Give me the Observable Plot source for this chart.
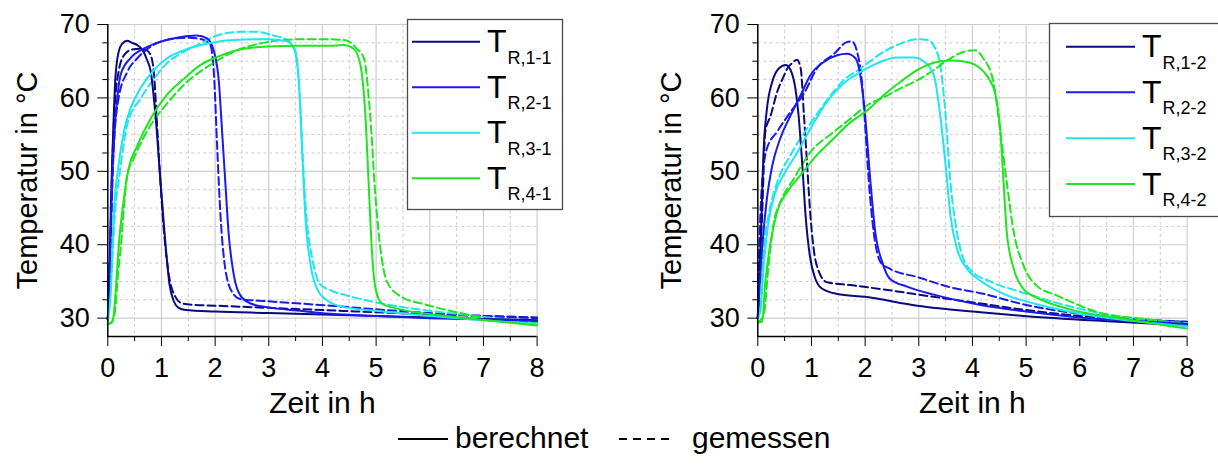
<!DOCTYPE html>
<html><head><meta charset="utf-8">
<script src="https://cdn.jsdelivr.net/npm/d3@7"></script>
<script src="https://cdn.jsdelivr.net/npm/@observablehq/plot@0.6"></script>
<style>
body{margin:0;background:#fff;font-family:"Liberation Sans",Arial,sans-serif;}
#root{position:relative;width:1218px;height:466px;overflow:hidden;background:#fff;}
#root > svg{position:absolute;top:0;}
</style></head><body><div id="root"></div>
<script>
// ---------- data ----------
const timeMajor = [0,1,2,3,4,5,6,7,8];
const timeMinor = [0.5,1.5,2.5,3.5,4.5,5.5,6.5,7.5];
const tempMajor = [30,40,50,60,70];
const tempMinor = [32.5,35,37.5,42.5,45,47.5,52.5,55,57.5,62.5,65,67.5];
const labels1 = ["R,1-1","R,2-1","R,3-1","R,4-1"];
const labels2 = ["R,1-2","R,2-2","R,3-2","R,4-2"];
const legendKinds = ["berechnet","gemessen"];

// left panel – berechnet (calc) / gemessen (meas), [Zeit h, Temperatur °C]
const calc_1_1 = [[0,29.8],[0.03,36],[0.06,46],[0.08,51],[0.11,57.4],[0.14,62.5],[0.2,66.2],[0.27,67.4],[0.36,67.8],[0.45,67.5],[0.55,67.2],[0.65,66.5],[0.73,65.2],[0.8,63.6],[0.89,57.5],[0.98,48.8],[1.06,41.4],[1.15,34.6],[1.23,32.3],[1.32,31.4],[1.45,31.1],[2.0,30.9],[3.0,30.7],[4.0,30.5],[5.0,30.3],[6.0,30.1],[7.0,29.9],[8.0,29.7]];
const meas_1_1 = [[0,29.8],[0.04,38],[0.08,50],[0.14,60],[0.2,63.5],[0.3,65.8],[0.45,66.6],[0.6,66.7],[0.72,66.5],[0.8,65.8],[0.86,63.3],[0.92,56],[0.98,48.6],[1.05,41.5],[1.14,35.8],[1.26,32.9],[1.39,32.0],[1.6,31.8],[2.0,31.7],[3.0,31.4],[4.0,31.1],[5.0,30.8],[6.0,30.5],[7.0,30.3],[8.0,30.1]];
const calc_2_1 = [[0,29.8],[0.04,38],[0.08,48.5],[0.13,56],[0.17,59.5],[0.24,63.2],[0.42,65.4],[0.67,66.7],[1.0,67.7],[1.29,68.2],[1.66,68.5],[1.85,68.1],[1.98,66.3],[2.07,62.2],[2.13,55.4],[2.19,48.5],[2.25,41.7],[2.35,35.8],[2.47,33.1],[2.66,32.0],[2.97,31.5],[3.59,31.0],[4.15,30.6],[5,30.3],[6,30.0],[7,29.8],[8,29.6]];
const meas_2_1 = [[0,29.8],[0.05,40],[0.11,53],[0.2,59.9],[0.36,63.5],[0.55,65.4],[0.8,67],[1.1,67.9],[1.48,68.2],[1.75,68.0],[1.91,67.2],[1.98,63],[2.04,53],[2.1,44],[2.19,36.7],[2.32,33.5],[2.47,32.6],[2.97,32.3],[4.15,31.7],[5,31.2],[6,30.7],[7,30.3],[8,30.0]];
const calc_3_1 = [[0,29.8],[0.05,33],[0.11,44],[0.2,50.8],[0.3,55.4],[0.42,58.5],[0.61,61.3],[0.86,63.8],[1.1,65.4],[1.42,66.5],[1.73,67.2],[2.35,67.9],[2.97,68.0],[3.34,67.7],[3.47,66.7],[3.56,62.2],[3.62,53],[3.68,44],[3.78,37.2],[3.9,34],[4.09,32.4],[4.4,31.5],[5,31.0],[6,30.3],[7,29.7],[8,29.2]];
const meas_3_1 = [[0,29.8],[0.06,35],[0.14,45],[0.2,48.5],[0.36,56.3],[0.61,59.9],[0.86,62.6],[1.1,64.7],[1.42,66.3],[1.73,67.4],[2.04,68.5],[2.47,69.0],[2.78,69.0],[3.09,68.5],[3.34,67.9],[3.5,66.3],[3.58,59.9],[3.64,50.8],[3.7,44],[3.81,38.1],[3.96,34.6],[4.15,33.8],[4.5,33.0],[4.9,32.3],[5.5,31.5],[6.0,31.0],[6.6,30.5],[7.2,30.0],[8,29.4]];
const calc_4_1 = [[0,29.2],[0.06,29.3],[0.11,30.4],[0.15,34],[0.2,39.5],[0.3,46.3],[0.39,50.4],[0.55,53.5],[0.8,57.2],[1.1,60.4],[1.42,62.6],[1.73,64.5],[2.04,65.6],[2.35,66.4],[2.97,67.0],[3.59,67.1],[4.15,67.1],[4.39,67.2],[4.58,66.7],[4.71,64.4],[4.8,57.6],[4.86,48.5],[4.92,39.4],[4.99,34],[5.11,32],[5.39,31.3],[6.44,30.2],[7.2,29.6],[8,29.0]];
const meas_4_1 = [[0,29.2],[0.08,29.5],[0.14,31.3],[0.19,36],[0.24,39.5],[0.3,45],[0.36,49.5],[0.48,51.7],[0.8,56.3],[1.1,59.2],[1.48,62.2],[1.91,64.5],[2.35,66.3],[2.97,67.6],[3.59,68.0],[4.15,68.0],[4.46,67.8],[4.64,66.7],[4.77,65.5],[4.89,57.6],[4.99,46.3],[5.08,39.5],[5.2,35],[5.45,33.0],[5.95,31.8],[6.57,30.7],[7.07,30.0],[8,29.3]];

// right panel
const calc_1_2 = [[0,30],[0.05,39.5],[0.11,53.1],[0.17,58.5],[0.27,62.2],[0.39,64],[0.52,64.5],[0.61,63.8],[0.7,61.3],[0.76,57.6],[0.83,50.8],[0.89,44],[0.97,38.5],[1.07,35.4],[1.2,34],[1.48,33.3],[2.0,32.9],[2.97,31.7],[4.15,30.8],[4.95,30.3],[6.44,29.6],[8,29.0]];
const meas_1_2 = [[0,30],[0.04,38],[0.08,44],[0.14,55.4],[0.24,57.6],[0.36,60.8],[0.48,62.9],[0.55,64],[0.65,64.8],[0.73,65.2],[0.8,64],[0.86,57.6],[0.92,50.8],[0.98,44],[1.04,39.5],[1.14,36.3],[1.29,34.9],[1.73,34.5],[2.35,33.9],[3.28,32.9],[4.15,32.0],[5,31.1],[6,30.3],[7,29.8],[8,29.5]];
const calc_2_2 = [[0,30],[0.03,34],[0.08,39.5],[0.17,46.3],[0.27,50.8],[0.42,54.5],[0.61,57.6],[0.8,60.4],[0.98,63.1],[1.23,64.9],[1.48,65.8],[1.66,66.0],[1.82,65.4],[1.91,63.1],[2.0,57.6],[2.1,48.5],[2.19,41.7],[2.32,37.6],[2.47,35.3],[2.78,34.3],[3.28,33.2],[4.15,31.8],[5,30.9],[6,30.1],[7,29.6],[8,29.2]];
const meas_2_2 = [[0,30],[0.03,40],[0.08,48.5],[0.17,53.1],[0.36,55.4],[0.61,58.1],[0.86,60.6],[1.1,64],[1.42,66],[1.66,67.6],[1.75,67.7],[1.85,66.3],[1.94,62.2],[2.0,56.3],[2.07,48.5],[2.16,41.7],[2.29,37.6],[2.47,36.7],[2.97,35.6],[3.59,34.2],[4.15,33.4],[5,31.8],[6,30.6],[7,29.9],[8,29.5]];
const calc_3_2 = [[0,30],[0.05,31],[0.11,37.2],[0.2,43.1],[0.33,47.2],[0.48,49.5],[0.73,52.5],[0.98,55.8],[1.29,59.5],[1.6,62.0],[1.91,63.5],[2.22,64.7],[2.6,65.5],[2.91,65.5],[3.09,65.0],[3.28,63.1],[3.4,57.6],[3.5,50.8],[3.59,44],[3.71,39.5],[3.9,36.7],[4.15,35.1],[4.58,33.3],[5.2,31.9],[5.95,30.7],[7,29.6],[8,28.9]];
const meas_3_2 = [[0,30],[0.05,32],[0.11,39.5],[0.2,44],[0.36,48.5],[0.61,52.2],[0.98,56.5],[1.29,59.7],[1.6,62.4],[1.91,64],[2.35,66.3],[2.66,67.4],[2.97,68.0],[3.16,67.9],[3.31,66.7],[3.4,64.5],[3.5,57.6],[3.59,48.5],[3.68,43.1],[3.81,38.5],[3.96,36.6],[4.33,35],[4.89,33.6],[5.51,32.2],[6.44,30.6],[7.2,29.8],[8,29.3]];
const calc_4_2 = [[0,29.4],[0.08,29.5],[0.14,34.9],[0.24,40.4],[0.36,44.5],[0.55,47.2],[0.8,49.5],[1.1,52.2],[1.42,54.5],[1.73,56.7],[2.04,58.3],[2.35,60.4],[2.66,62.2],[2.97,63.8],[3.28,64.8],[3.59,65.1],[3.9,64.9],[4.15,64],[4.27,63],[4.43,60.4],[4.52,55.4],[4.58,48.5],[4.64,41.7],[4.77,36.7],[4.95,34],[5.2,32.8],[5.82,31.2],[6.75,30.0],[8,28.6]];
const meas_4_2 = [[0,29.4],[0.11,30.4],[0.2,37.2],[0.3,43.1],[0.42,45.8],[0.67,49],[0.98,52.6],[1.42,55.4],[1.73,57.2],[2.04,59],[2.35,60.1],[2.66,61.3],[2.97,62.4],[3.28,63.8],[3.59,65.4],[3.9,66.4],[4.05,66.5],[4.2,65.4],[4.39,62.2],[4.52,55.4],[4.64,48.5],[4.77,41.7],[4.95,37.2],[5.2,34.4],[5.57,33.1],[6.44,30.6],[7.2,29.9],[8,29.2]];

// ---------- styling ----------
const colors = ["#0a0a80","#1a1aef","#1ee6f0","#1ee61e"];
const FONT = "'Liberation Sans', Arial, sans-serif";
const GRID = "#cdcdcd";

function rowsOf(list, kind){
  const out = [];
  list.forEach((arr, i) => arr.forEach(([t, T]) => out.push({t, T, id: kind + i, color: colors[i]})));
  return out;
}

function panel({calc, meas, marginLeft, marginRight, labelDx}){
  const cRows = rowsOf(calc, "c"), mRows = rowsOf(meas, "m");
  return Plot.plot({
    width: 609, height: 466,
    marginLeft, marginRight, marginTop: 24, marginBottom: 130,
    style: {fontFamily: FONT, fontSize: "27px", color: "#000", background: "transparent", overflow: "visible"},
    x: {domain: [0, 8]},
    y: {domain: [27.5, 70]},
    color: {type: "identity"},
    marks: [
      Plot.ruleX(timeMinor, {stroke: GRID, strokeDasharray: "3,3"}),
      Plot.ruleX(timeMajor.slice(1), {stroke: GRID, strokeWidth: 1.2}),
      Plot.ruleY(tempMinor, {stroke: GRID, strokeDasharray: "3,3"}),
      Plot.ruleY(tempMajor, {stroke: GRID, strokeWidth: 1.2}),
      Plot.line(mRows, {x: "t", y: "T", z: "id", stroke: "color", strokeWidth: 2, strokeDasharray: "8,4", curve: "monotone-x"}),
      Plot.line(cRows, {x: "t", y: "T", z: "id", stroke: "color", strokeWidth: 2, curve: "monotone-x"}),
      Plot.ruleX([0], {stroke: "#000", strokeWidth: 1.5}),
      Plot.ruleY([27.5], {stroke: "#000", strokeWidth: 1.5}),
      Plot.axisX({ticks: timeMajor, tickSize: 10, tickPadding: 11, tickFormat: d => String(d), label: null, fontSize: 27}),
      Plot.axisX({ticks: timeMinor, tickSize: 5, tickFormat: () => "", label: null}),
      Plot.axisY({ticks: tempMajor, tickSize: 10, tickPadding: 8, tickFormat: d => String(d), label: null, fontSize: 27}),
      Plot.axisY({ticks: tempMinor, tickSize: 5, tickFormat: () => "", label: null}),
      Plot.text(["Zeit in h"], {text: d => d, frameAnchor: "bottom", textAnchor: "middle", dy: 67, fontSize: 30, lineAnchor: "middle"}),
      Plot.text(["Temperatur in °C"], {text: d => d, frameAnchor: "left", textAnchor: "middle", dx: labelDx, rotate: -90, fontSize: 29, lineAnchor: "middle"})
    ]
  });
}

const root = document.getElementById("root");
const left = panel({calc: [calc_1_1, calc_2_1, calc_3_1, calc_4_1], meas: [meas_1_1, meas_2_1, meas_3_1, meas_4_1], marginLeft: 107.3, marginRight: 72.4, labelDx: -80});
left.style.left = "0px";
root.appendChild(left);
const right = panel({calc: [calc_1_2, calc_2_2, calc_3_2, calc_4_2], meas: [meas_1_2, meas_2_2, meas_3_2, meas_4_2], marginLeft: 148.3, marginRight: 31.4, labelDx: -86});
right.style.left = "609px";
root.appendChild(right);

// ---------- legends overlay ----------
const ov = d3.select(root).append("svg").attr("width", 1218).attr("height", 466)
  .style("position", "absolute").style("left", "0px").style("top", "0px")
  .style("font-family", FONT);

function seriesLegend(x0, y0, w, h, lineX1, lineX2, rowsY, labels){
  ov.append("rect").attr("x", x0).attr("y", y0).attr("width", w).attr("height", h)
    .attr("fill", "#fff").attr("stroke", "#4a4a4a").attr("stroke-width", 1.3);
  labels.forEach((lab, i) => {
    const y = rowsY[i];
    ov.append("line").attr("x1", lineX1).attr("x2", lineX2).attr("y1", y).attr("y2", y)
      .attr("stroke", colors[i]).attr("stroke-width", 2);
    const t = ov.append("text").attr("x", lineX2 + 7).attr("y", y + 10.5).attr("font-size", 32).attr("fill", "#000");
    t.append("tspan").text("T");
    t.append("tspan").attr("font-size", 18).attr("dx", 1).attr("dy", 11.5).text(lab);
  });
}
seriesLegend(407.5, 19.5, 155, 190, 412, 480, [41.7, 87.3, 132.7, 178.3], labels1);
seriesLegend(1049.5, 23.5, 175, 193, 1066, 1135, [46.7, 92.3, 138.3, 184], labels2);

// bottom legend
ov.append("line").attr("x1", 398).attr("x2", 448).attr("y1", 439).attr("y2", 439).attr("stroke", "#000").attr("stroke-width", 2);
ov.append("text").attr("x", 455).attr("y", 448).attr("font-size", 30).text(legendKinds[0]);
ov.append("line").attr("x1", 619).attr("x2", 675).attr("y1", 439).attr("y2", 439).attr("stroke", "#000").attr("stroke-width", 2).attr("stroke-dasharray", "8,6");
ov.append("text").attr("x", 692).attr("y", 448).attr("font-size", 30).text(legendKinds[1]);
</script>
</body></html>
